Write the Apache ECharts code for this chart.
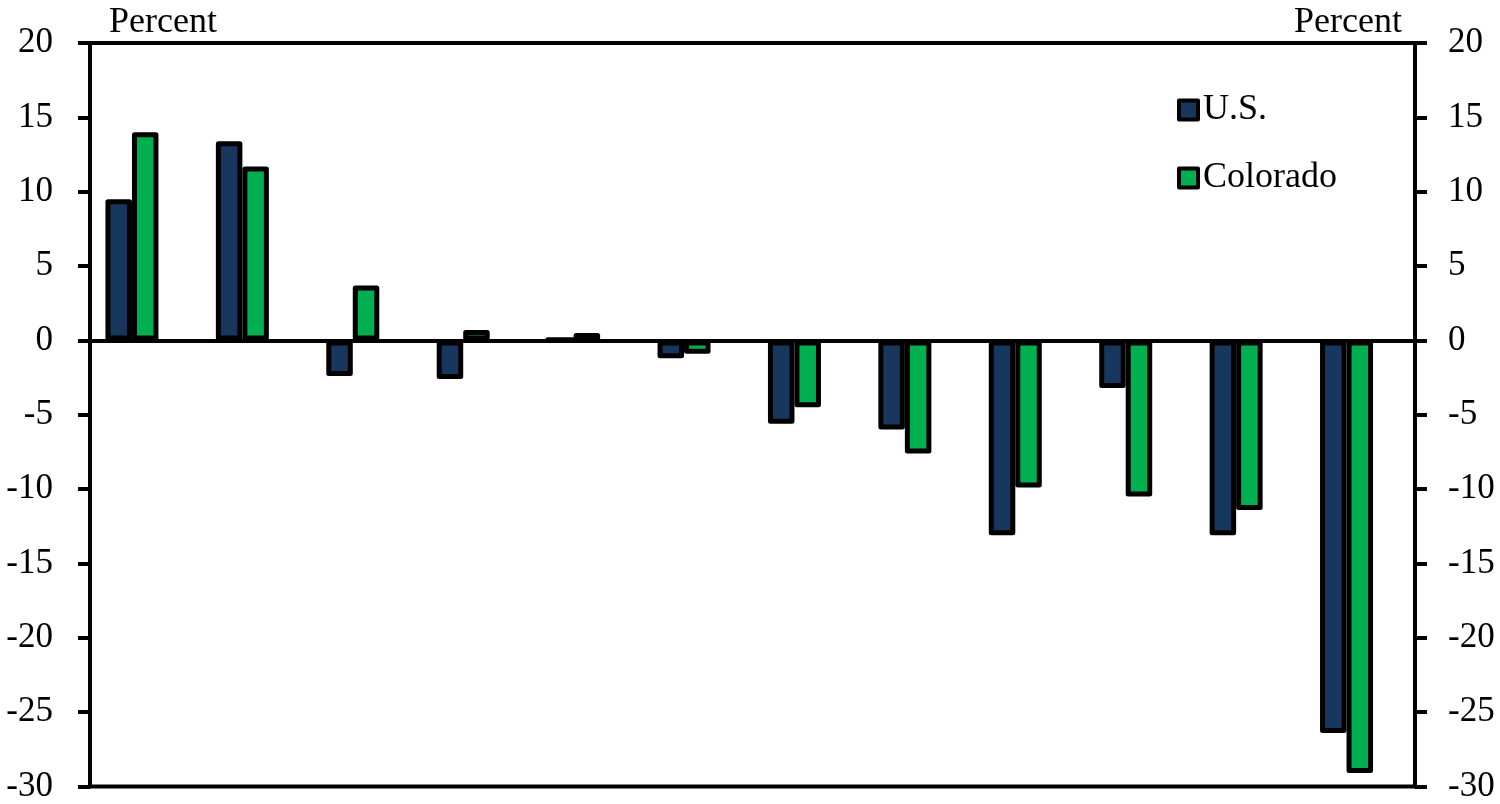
<!DOCTYPE html>
<html>
<head>
<meta charset="utf-8">
<script src="https://cdn.jsdelivr.net/npm/echarts@6/dist/echarts.min.js"></script>
<style>html,body{margin:0;padding:0;background:#fff}#c{width:1500px;height:804px}</style>
</head>
<body>
<div id="c"></div>
<script>
var categories = ['1','2','3','4','5','6','7','8','9','10','11','12'];
var usValues = [9.5, 13.4, -2.4, -2.6, 0.1, -1.2, -5.6, -6.0, -13.1, -3.2, -13.1, -26.4];
var coValues = [14.0, 11.7, 3.7, 0.7, 0.5, -0.9, -4.5, -7.6, -9.9, -10.5, -11.4, -29.1];
var seriesNames = ['U.S.', 'Colorado'];
var yMin = -30, yMax = 20, yStep = 5;

var font = '"Liberation Serif", "Times New Roman", serif';
var chart = echarts.init(document.getElementById('c'));
var labelStyle = {color:'#000', fontFamily:font, fontSize:35};
function yAx(pos, margin){
  return {
    type:'value', position:pos, min:yMin, max:yMax, interval:yStep,
    axisLine:{show:true, lineStyle:{color:'#000', width:4}},
    axisTick:{show:true, inside:false, length:12, lineStyle:{color:'#000', width:4}},
    axisLabel:Object.assign({margin:margin}, labelStyle),
    splitLine:{show:false}
  };
}
chart.setOption({
  animation:false,
  backgroundColor:'#fff',
  title:[
    {text:'Percent', left:104, top:0, textStyle:{color:'#000', fontFamily:font, fontSize:36, fontWeight:'normal'}},
    {text:'Percent', right:93, top:0, textStyle:{color:'#000', fontFamily:font, fontSize:36, fontWeight:'normal'}}
  ],
  grid:{left:90, right:85, top:43, bottom:17, show:true, borderColor:'#000', borderWidth:4, backgroundColor:'transparent'},
  legend:{
    data:seriesNames, orient:'vertical', left:1172, top:87,
    itemWidth:19, itemHeight:19, itemGap:32,
    itemStyle:{borderColor:'#000', borderWidth:4},
    textStyle:{color:'#000', fontFamily:font, fontSize:36, lineHeight:36, padding:[0,0,0,0]},
    icon:'rect'
  },
  xAxis:{
    type:'category', data:categories,
    axisLine:{show:true, onZero:true, lineStyle:{color:'#000', width:4}},
    axisTick:{show:false}, axisLabel:{show:false}, splitLine:{show:false}
  },
  yAxis:[yAx('left', 37), yAx('right', 33)],
  series:[
    {name:seriesNames[0], type:'bar', data:usValues, barGap:'0%', barCategoryGap:'28%',
     itemStyle:{color:'#17375E', borderColor:'#000', borderWidth:5, borderJoin:'round'}},
    {name:seriesNames[1], type:'bar', data:coValues,
     itemStyle:{color:'#00B050', borderColor:'#000', borderWidth:5, borderJoin:'round'}},
    {name:'spacer', type:'bar', data:categories.map(function(){return null;})}
  ]
});
</script>
</body>
</html>
